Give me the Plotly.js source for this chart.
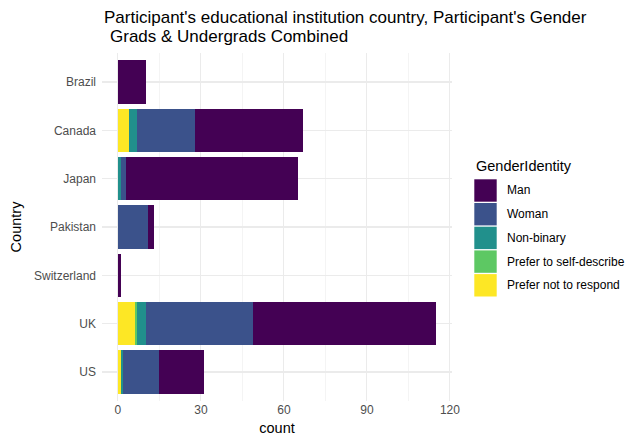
<!DOCTYPE html>
<html>
<head>
<meta charset="utf-8">
<script src="https://cdn.plot.ly/plotly-3.0.1.min.js"></script>
<style>html,body{margin:0;padding:0;background:#fff;}#chart{width:641px;height:438px;}</style>
</head>
<body>
<div id="chart"></div>
<script>
// ---- data ----
const countries = ["Brazil", "Canada", "Japan", "Pakistan", "Switzerland", "UK", "US"];
const genders = ["Man", "Woman", "Non-binary", "Prefer to self-describe", "Prefer not to respond"];
const man          = [10, 39, 62, 2, 1, 66, 16];
const woman        = [0, 21, 2, 11, 0, 39, 13];
const nonBinary    = [0, 3, 1, 0, 0, 3, 1];
const selfDescribe = [0, 0, 0, 0, 0, 1, 0];
const notRespond   = [0, 4, 0, 0, 0, 6, 1];
const colors = ["#440154", "#3B528B", "#21908C", "#5DC863", "#FDE725"];
const xTicks = [0, 30, 60, 90, 120];

const seriesValues = [man, woman, nonBinary, selfDescribe, notRespond];

// stack order left->right: Prefer not to respond, self-describe, Non-binary, Woman, Man
const traces = [];
for (let i = genders.length - 1; i >= 0; i--) {
  traces.push({
    type: "bar",
    orientation: "h",
    name: genders[i],
    y: countries,
    x: seriesValues[i],
    marker: {color: colors[i], line: {width: 0}},
    width: 0.9,
    showlegend: false,
    hoverinfo: "x+y+name"
  });
}

// panel geometry (px)
const L = 102, R = 452, T = 53, B = 401;
const W = R - L, H = B - T;
const px2x = p => (p - L) / W;
const py2y = p => (B - p) / H;

const shapes = [];
const annotations = [];

// second title line
annotations.push({
  xref: "paper", yref: "paper",
  x: px2x(108), y: py2y(36.5), xanchor: "left", yanchor: "middle",
  text: "Grads & Undergrads Combined", showarrow: false,
  font: {family: "Liberation Sans, Arial, sans-serif", size: 17, color: "#000"}
});

// legend title
annotations.push({
  xref: "paper", yref: "paper",
  x: px2x(474), y: py2y(165.5), xanchor: "left", yanchor: "middle",
  text: "GenderIdentity", showarrow: false,
  font: {family: "Liberation Sans, Arial, sans-serif", size: 14.5, color: "#000"}
});

// legend keys
const keyTop0 = 179.3, keyStep = 23.7, keySize = 22.4, keyLeft = 474.3;
genders.forEach((g, i) => {
  const top = keyTop0 + i * keyStep;
  shapes.push({
    type: "rect", xref: "paper", yref: "paper",
    x0: px2x(keyLeft), x1: px2x(keyLeft + keySize),
    y0: py2y(top + keySize), y1: py2y(top),
    fillcolor: colors[i], line: {width: 0}
  });
  annotations.push({
    xref: "paper", yref: "paper",
    x: px2x(505), y: py2y(top + keySize / 2), xanchor: "left", yanchor: "middle",
    text: g, showarrow: false,
    font: {family: "Liberation Sans, Arial, sans-serif", size: 12, color: "#000"}
  });
});

const layout = {
  width: 641, height: 438,
  margin: {l: L, r: 641 - R, t: T, b: 438 - B, pad: 0},
  paper_bgcolor: "#ffffff", plot_bgcolor: "#ffffff",
  barmode: "stack",
  font: {family: "Liberation Sans, Arial, sans-serif", color: "#000"},
  title: {
    text: "Participant's educational institution country, Participant's Gender",
    xref: "container", yref: "container",
    x: 104 / 641, xanchor: "left",
    y: 1 - 17.5 / 438, yanchor: "middle",
    font: {family: "Liberation Sans, Arial, sans-serif", size: 17, color: "#000"}
  },
  xaxis: {
    range: [-5.75, 120.75],
    tickvals: xTicks, ticktext: xTicks.map(String),
    showgrid: true, gridcolor: "#EBEBEB", gridwidth: 1.1,
    minor: {dtick: 15, tick0: 15, showgrid: true, gridcolor: "#EBEBEB", gridwidth: 0.55},
    zeroline: false, showline: false, ticks: "",
    tickfont: {size: 12, color: "#4D4D4D"},
    title: {text: "count", font: {size: 14.5, color: "#000"}, standoff: 6},
    fixedrange: true
  },
  yaxis: {
    type: "category",
    categoryorder: "array", categoryarray: countries,
    range: [countries.length - 0.4, -0.6],
    showgrid: true, gridcolor: "#EBEBEB", gridwidth: 1.1,
    zeroline: false, showline: false, ticks: "",
    tickfont: {size: 12, color: "#4D4D4D"},
    ticklabelstandoff: 5,
    title: {text: "Country", font: {size: 14.5, color: "#000"}, standoff: 8},
    fixedrange: true
  },
  shapes: shapes,
  annotations: annotations,
  showlegend: false,
  bargap: 0.1
};

Plotly.newPlot("chart", traces, layout, {displayModeBar: false, staticPlot: true});
</script>
</body>
</html>
